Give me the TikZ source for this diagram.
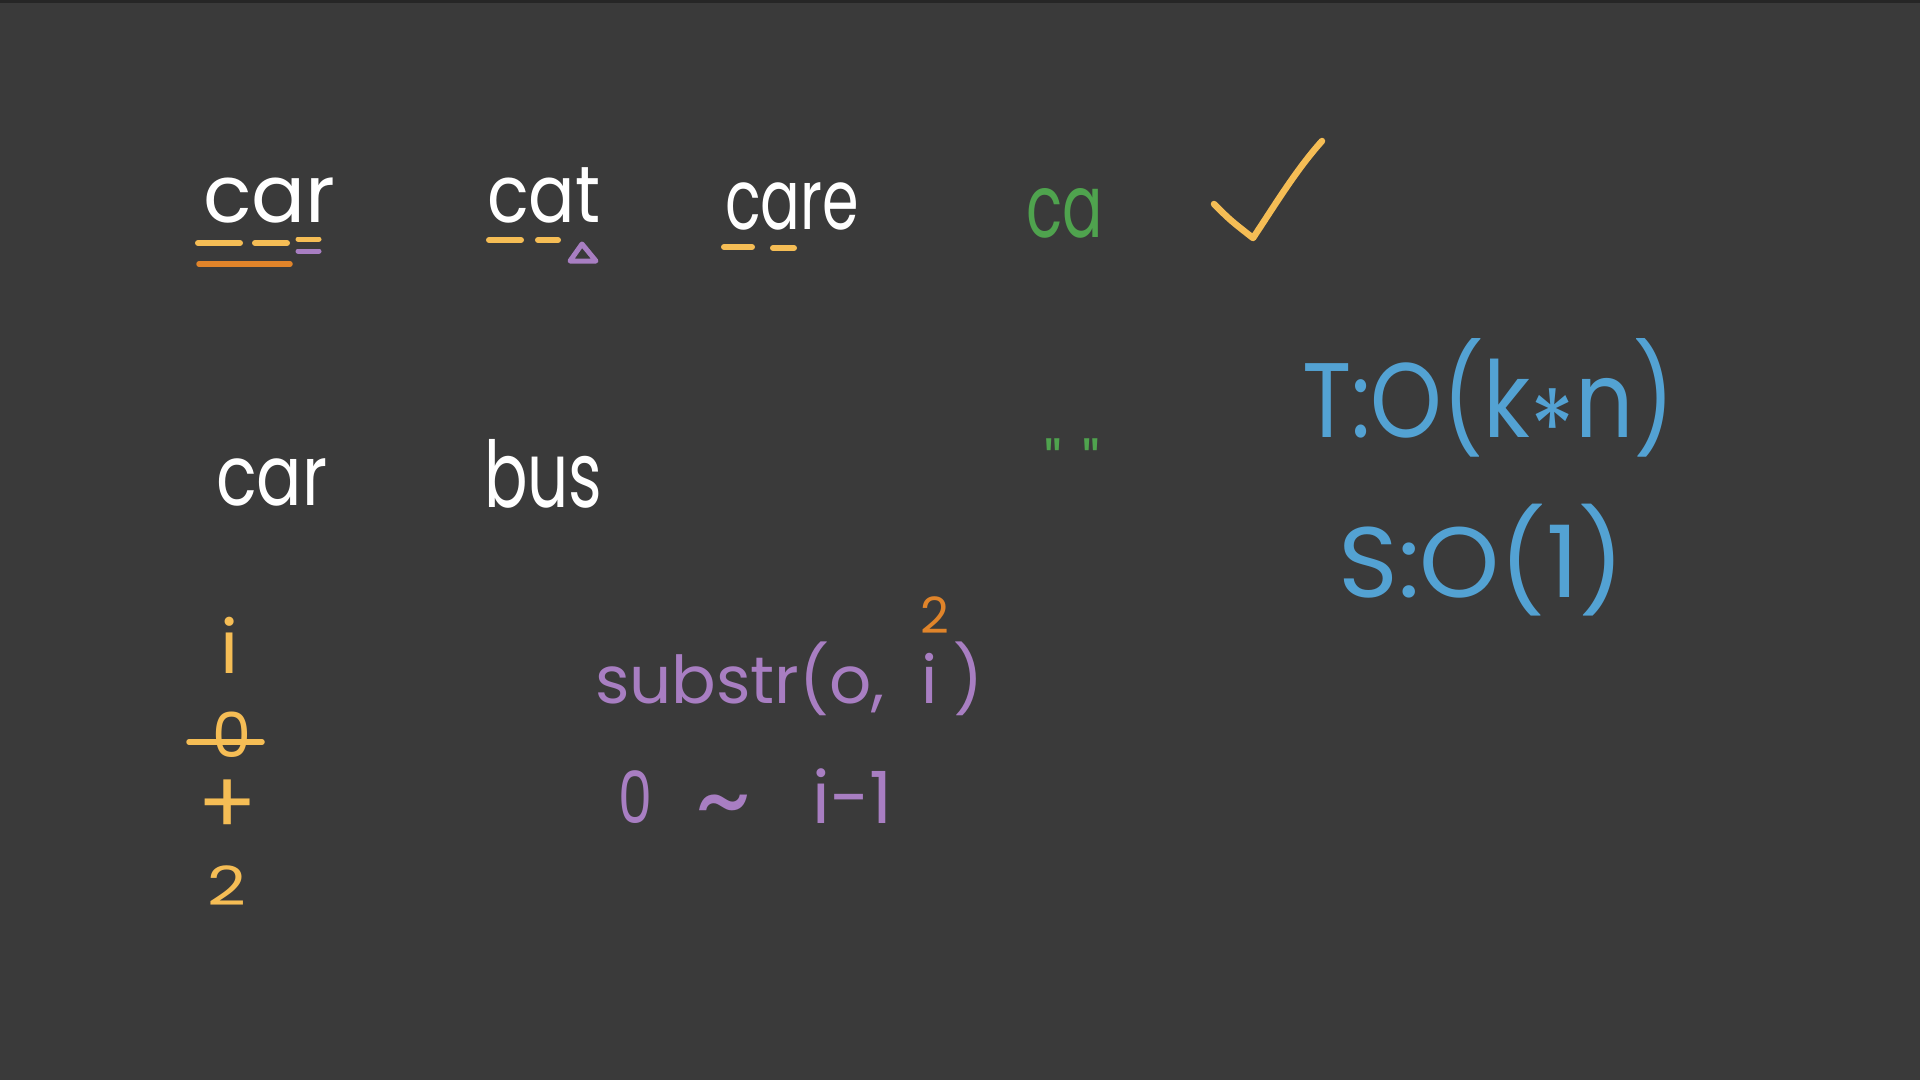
\documentclass[tikz,border=0pt]{standalone}
\usepackage{fontspec}
\usepackage{graphicx}
\newfontfamily\hf{Poppins}
\definecolor{bg}{HTML}{3A3A3A}
\definecolor{topline}{HTML}{262626}
\definecolor{chalk}{HTML}{FFFFFF}
\definecolor{hyellow}{HTML}{F5BD55}
\definecolor{horange}{HTML}{E0842A}
\definecolor{hpurple}{HTML}{A87EC2}
\definecolor{hgreen}{HTML}{4FA34E}
\definecolor{hblue}{HTML}{53A2D3}
\tikzset{
  txt/.style={inner sep=0pt, anchor=base west},
  fs/.style={font=\hf\fontsize{#1}{#1}\selectfont},
  pen/.style={line width=6pt, line cap=round, line join=round},
}
\begin{document}
\begin{tikzpicture}[x=1pt,y=-1pt]
\fill[bg] (0,0) rectangle (1920,1080);
\useasboundingbox (0,0) rectangle (1920,1080);
\fill[topline] (0,0) rectangle (1920,3);

% top row words
\node[txt, fs=80, text=chalk] (car1) at (203,222) {car};
\node[txt, fs=80, text=chalk] (cat) at (487,222) {\scalebox{0.86}[1]{cat}};
\node[txt, fs=84, text=chalk] (care) at (725,229) {\scalebox{0.7}[1]{care}};
\node[txt, fs=88, text=hgreen] (ca) at (1026,237) {\scalebox{0.68}[1]{ca}};

% underlines of car
\draw[pen, hyellow] (198,243) coordinate (u1a) -- (240,243) coordinate (u1b);
\draw[pen, hyellow] (255,243) coordinate (u2a) -- (287,243) coordinate (u2b);
\draw[pen, hyellow, line width=5pt] (298,239) coordinate (u3a) -- (319,239) coordinate (u3b);
\draw[pen, hpurple, line width=5pt] (298,251) coordinate (u4a) -- (319,251) coordinate (u4b);
\draw[pen, horange, line width=5.5pt] (199,264) coordinate (u5a) -- (290,264) coordinate (u5b);
% underlines of cat
\draw[pen, hyellow] (489,240) coordinate (c1a) -- (521,240) coordinate (c1b);
\draw[pen, hyellow] (538,240) coordinate (c2a) -- (558,240) coordinate (c2b);
\draw[pen, hpurple, line width=5pt] (582,244) coordinate (t1) -- (570,261) coordinate (t2) -- (596,261) coordinate (t3) -- cycle;
% underlines of care
\draw[pen, hyellow] (724,247) coordinate (r1a) -- (752,247) coordinate (r1b);
\draw[pen, hyellow] (773,248) coordinate (r2a) -- (794,248) coordinate (r2b);

% check mark
\draw[pen, hyellow, line width=6.5pt] (1214,204) coordinate (k1) .. controls (1230,220) .. (1253,238) coordinate (k2)
  .. controls (1275,205) and (1296,170) .. (1322,141) coordinate (k3);

% second row
\node[txt, fs=84, text=chalk] (car2) at (216,505) {\scalebox{0.8}[1]{car}};
\node[txt, fs=92, text=chalk] (bus) at (484,507) {\scalebox{0.7}[1]{bus}};
\node[inner sep=0pt, anchor=north west, fs=60, text=hgreen] (empty) at (1044,439) {"\hspace{0.34em}"};

% complexity
\node[txt, fs=106, text=hblue] (tc) at (1302,437) {\scalebox{0.86}[1]{T:O(k\raisebox{-0.28em}{*}n)}};
\node[txt, fs=100, text=hblue] (sc) at (1338,597) {\scalebox{1.02}[1]{S:O(1)}};

% yellow column
\node[txt, fs=74, text=hyellow] (iy) at (220,673) {i};
\node[txt, fs=62, text=hyellow] (zero) at (212,757) {0};
\draw[pen, hyellow, line width=5.5pt] (189,742) coordinate (s1) -- (262,742) coordinate (s2);
\node[fs=88, text=hyellow, inner sep=0pt] (plus) at (228,807) {+};
\node[txt, fs=54, text=hyellow] (two) at (207,905) {\scalebox{1.25}[1]{2}};

% purple substr
\node[txt, fs=66, text=hpurple] (sub) at (595,703) {substr(o,\hspace{0.55em}i\hspace{0.25em})};
\node[txt, fs=50, text=horange] (two2) at (920,633) {2};
\node[txt, fs=72, text=hpurple] (range) at (618,823) {\scalebox{0.75}[1]{0}\hspace{0.6em}\raisebox{-0.2em}{\scalebox{1.5}{\char"7E}}\hspace{0.85em}i-1};
\end{tikzpicture}
\end{document}
